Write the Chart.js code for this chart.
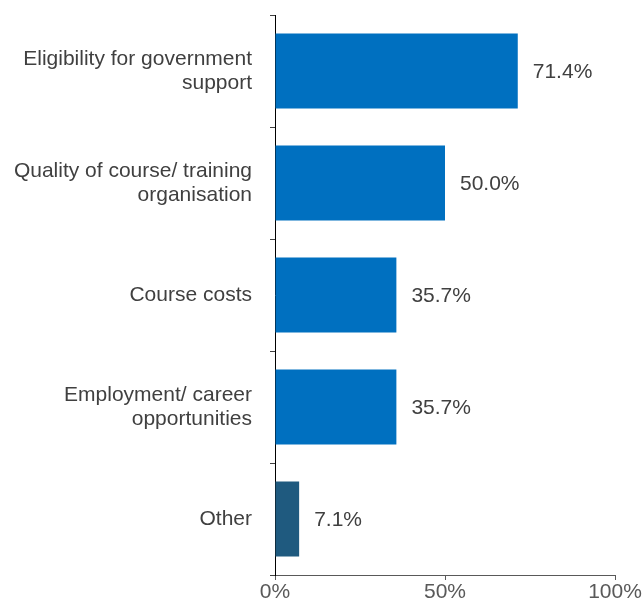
<!DOCTYPE html>
<html>
<head>
<meta charset="utf-8">
<script src="https://cdn.jsdelivr.net/npm/chart.js@4/dist/chart.umd.min.js"></script>
<style>
  html, body { margin: 0; padding: 0; background: #fff; }
  #wrap { width: 643px; height: 607px; }
</style>
</head>
<body>
<div id="wrap"><canvas id="chart" width="643" height="607"></canvas></div>
<script>
const categories = [
  ['Eligibility for government', 'support'],
  ['Quality of course/ training', 'organisation'],
  'Course costs',
  ['Employment/ career', 'opportunities'],
  'Other'
];
const values = [71.4, 50.0, 35.7, 35.7, 7.1];
const barColors = ['#0070C0', '#0070C0', '#0070C0', '#0070C0', '#1F5A7F'];
const xTicks = [0, 50, 100];

const FONT = '"Liberation Sans", Arial, sans-serif';

// draws the value next to each bar end
const valueLabels = {
  id: 'valueLabels',
  afterDatasetsDraw(chart) {
    const ctx = chart.ctx;
    const meta = chart.getDatasetMeta(0);
    ctx.save();
    ctx.font = '21px ' + FONT;
    ctx.fillStyle = '#404040';
    ctx.textBaseline = 'middle';
    ctx.textAlign = 'left';
    meta.data.forEach((bar, i) => {
      ctx.fillText(values[i].toFixed(1) + '%', bar.x + 15, bar.y + 1);
    });
    ctx.restore();
  }
};

const ctx = document.getElementById('chart').getContext('2d');
new Chart(ctx, {
  type: 'bar',
  data: {
    labels: categories,
    datasets: [{
      data: values,
      backgroundColor: barColors,
      borderWidth: 0,
      categoryPercentage: 0.67,
      barPercentage: 1
    }]
  },
  options: {
    indexAxis: 'y',
    responsive: false,
    animation: false,
    layout: { padding: { left: 0, right: 28, top: 15, bottom: 0 } },
    plugins: {
      legend: { display: false },
      tooltip: { enabled: false }
    },
    scales: {
      x: {
        min: 0,
        max: 100,
        afterBuildTicks(axis) { axis.ticks = xTicks.map(v => ({ value: v })); },
        afterFit(axis) {
          axis.height = 32;
          axis.paddingLeft = 0;
          axis.paddingRight = 0;
        },
        grid: {
          drawOnChartArea: false,
          drawTicks: true,
          tickLength: 5,
          color: '#595959'
        },
        border: { color: '#595959', width: 1 },
        ticks: {
          color: '#595959',
          padding: 0,
          font: { family: FONT, size: 21 },
          callback: v => v + '%',
          maxRotation: 0
        }
      },
      y: {
        afterFit(axis) {
          axis.width = 275;
          axis.paddingTop = 0;
          axis.paddingBottom = 0;
        },
        grid: {
          offset: true,
          drawOnChartArea: false,
          drawTicks: true,
          tickLength: 5,
          color: '#404040'
        },
        border: { color: '#000000', width: 1 },
        ticks: {
          color: '#404040',
          padding: 18,
          font: { family: FONT, size: 21, lineHeight: 1.15 }
        }
      }
    }
  },
  plugins: [valueLabels]
});
</script>
</body>
</html>
